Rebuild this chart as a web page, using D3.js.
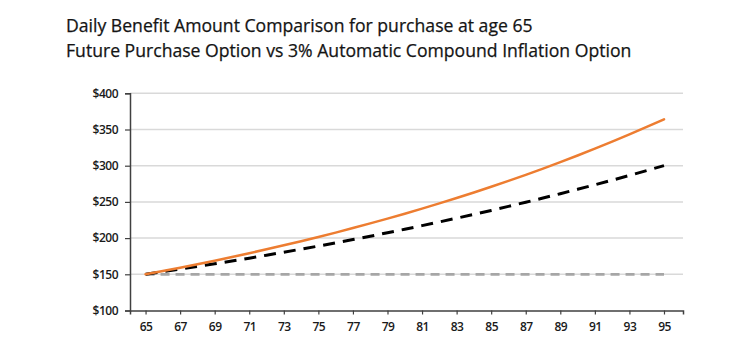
<!DOCTYPE html>
<html><head><meta charset="utf-8">
<script src="https://cdn.jsdelivr.net/npm/d3@7"></script>
<style>body{margin:0;background:#fff;}svg{display:block;}</style>
</head><body>
<svg id="chart" width="743" height="357"></svg>
<script>
const titleLines = ["Daily Benefit Amount Comparison for purchase at age 65",
  "Future Purchase Option vs 3% Automatic Compound Inflation Option"];
const ages = [65,66,67,68,69,70,71,72,73,74,75,76,77,78,79,80,81,82,83,84,85,86,87,88,89,90,91,92,93,94,95];
const compound3 = [150,154.5,159.1,163.9,168.8,173.9,179.1,184.5,190.0,195.7,201.6,207.6,213.9,220.3,226.9,233.7,240.7,247.9,255.4,263.0,270.9,279.0,287.4,296.0,304.9,314.1,323.5,333.2,343.2,353.5,364.1];
const futurePurchase = [150,153.5,157.1,160.8,164.6,168.4,172.3,176.4,180.5,184.7,189.0,193.5,198.0,202.6,207.4,212.2,217.2,222.3,227.5,232.8,238.2,243.8,249.5,255.3,261.3,267.4,273.6,280.0,286.6,293.3,300.1];
const baseline = [150,150,150,150,150,150,150,150,150,150,150,150,150,150,150,150,150,150,150,150,150,150,150,150,150,150,150,150,150,150,150];
const xTicks = [65,67,69,71,73,75,77,79,81,83,85,87,89,91,93,95];
const yTicks = [100,150,200,250,300,350,400];

const svg = d3.select("#chart");
const x = d3.scaleLinear().domain([64.1, 96.1]).range([130, 683]);
const y = d3.scaleLinear().domain([100, 400]).range([310.5, 93.3]);

// title
const title = svg.append("g").attr("font-family", "'Open Sans', sans-serif").attr("fill", "#141414");
const tWidths = [467, 566];
titleLines.forEach((t, i) => {
  const el = title.append("text").attr("x", 66).attr("y", 31.5 + i * 25).attr("font-size", 18)
    .attr("stroke", "#141414").attr("stroke-width", 0.25).text(t);
  const w = el.node().getComputedTextLength();
  el.attr("font-size", 18 * tWidths[i] / w);
});

// gridlines
svg.append("g").selectAll("line").data(yTicks.filter(d => d > 100)).join("line")
  .attr("x1", 130).attr("x2", 683).attr("y1", d => y(d)).attr("y2", d => y(d))
  .attr("stroke", "#d9d9d9").attr("stroke-width", 1.5);

const labelFont = "'Open Sans', sans-serif";

// y axis
const yAxis = svg.append("g").attr("transform", "translate(130,0)")
  .call(d3.axisLeft(y).tickValues(yTicks).tickFormat(d => "$" + d).tickSize(5).tickPadding(7));
yAxis.select(".domain").attr("stroke", "#404040").attr("stroke-width", 1.5);
yAxis.selectAll(".tick line").attr("stroke", "#404040").attr("stroke-width", 1.2);
yAxis.selectAll("text").attr("font-family", labelFont)
  .attr("font-size", 12).attr("fill", "#1a1a1a").attr("font-weight", 600).attr("letter-spacing", -0.5);

// x axis
const xAxis = svg.append("g").attr("transform", "translate(0,310.5)")
  .call(d3.axisBottom(x).tickValues(xTicks).tickFormat(d => d).tickSize(4).tickPadding(8).tickSizeOuter(4));
xAxis.select(".domain").attr("stroke", "#404040").attr("stroke-width", 1.5);
xAxis.selectAll(".tick line").attr("stroke", "#404040").attr("stroke-width", 1.2);
xAxis.selectAll("text").attr("font-family", labelFont)
  .attr("font-size", 12).attr("fill", "#1a1a1a").attr("font-weight", 600).attr("letter-spacing", -0.5);

const line = d3.line().x((d, i) => x(ages[i])).y(d => y(d));

svg.append("path").datum(baseline).attr("d", line).attr("fill", "none")
  .attr("stroke", "#a6a6a6").attr("stroke-width", 2.8).attr("stroke-dasharray", "9,6");
svg.append("path").datum(futurePurchase).attr("d", line).attr("fill", "none")
  .attr("stroke", "#000").attr("stroke-width", 3).attr("stroke-dasharray", "12,8");
svg.append("path").datum(compound3).attr("d", line).attr("fill", "none")
  .attr("stroke", "#ed7d31").attr("stroke-width", 2.5).attr("stroke-linecap", "round");
</script>
</body></html>
